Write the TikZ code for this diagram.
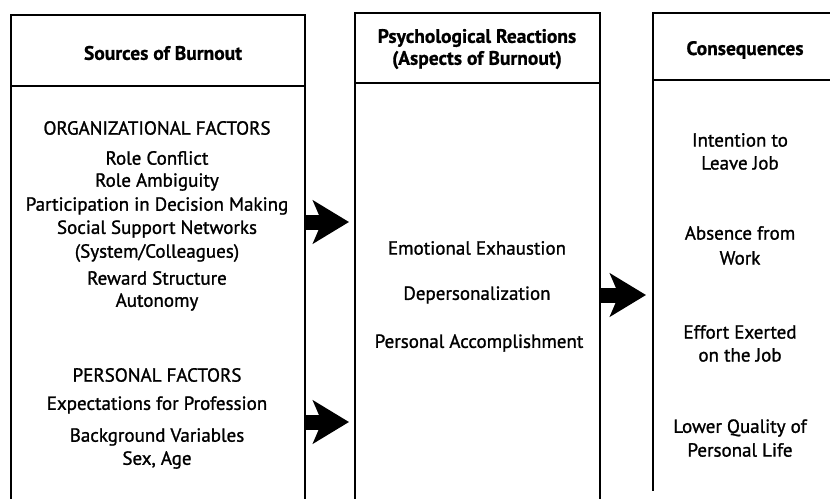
\documentclass[tikz,border=0pt]{standalone}
\usepackage{fontspec}
\setmainfont{PT Sans}
\newfontfamily\bodyfont{PT Sans}[FakeBold=1.2]
\newfontfamily\headfont{PT Sans Bold}[FakeBold=0.8]
\usetikzlibrary{arrows.meta}
\begin{document}
\begin{tikzpicture}[x=1pt,y=1pt,
  boxline/.style={line width=2.2pt,line cap=rect},
  txt/.style={inner sep=0pt,font=\bodyfont\fontsize{19}{22}\selectfont},
  head/.style={inner sep=0pt,font=\headfont\fontsize{19.5}{22}\selectfont},
  fatarrow/.style={line width=15pt,-{Stealth[length=36pt,width=43pt,inset=9pt]}}]
\useasboundingbox (0,0) rectangle (830,-498);
\begin{scope}
\clip (0,0) rectangle (830,-498);
% box 1
\coordinate (b1tl) at (11,-15);
\coordinate (b1tr) at (305,-15);
\coordinate (b1bl) at (11,-505);
\coordinate (b1br) at (305,-505);
\draw[boxline] (b1bl) -- (b1tl) -- (b1tr) -- (b1br);
\draw[boxline] (11,-86) -- (305,-86);
% box 2
\coordinate (b2tl) at (355,-13);
\coordinate (b2tr) at (600,-13);
\coordinate (b2bl) at (355,-505);
\coordinate (b2br) at (600,-505);
\draw[boxline] (b2bl) -- (b2tl) -- (b2tr) -- (b2br);
\draw[boxline] (355,-83) -- (600,-83);
% box 3
\coordinate (b3tl) at (653,-13);
\coordinate (b3tr) at (840,-13);
\coordinate (b3bl) at (653,-490);
\draw[boxline] (b3bl) -- (b3tl) -- (b3tr);
\draw[boxline] (653,-80) -- (840,-80);
\end{scope}
% arrows
\coordinate (a1s) at (304,-222);
\coordinate (a1e) at (349,-222);
\coordinate (a2s) at (304,-422);
\coordinate (a2e) at (349,-422);
\coordinate (a3s) at (599,-295);
\coordinate (a3e) at (646,-295);
\draw[fatarrow] (a1s) -- (a1e);
\draw[fatarrow] (a2s) -- (a2e);
\draw[fatarrow] (a3s) -- (a3e);
% box 1 texts
\node[head] (h1) at (163,-53) {Sources of Burnout};
\node[txt] (o0) at (157,-128) {ORGANIZATIONAL FACTORS};
\node[txt] (o1) at (157,-158) {Role Conflict};
\node[txt] (o2) at (157,-182) {Role Ambiguity};
\node[txt] (o3) at (157,-206) {Participation in Decision Making};
\node[txt] (o4) at (157,-229) {Social Support Networks};
\node[txt] (o5) at (157,-253) {(System/Colleagues)};
\node[txt] (o6) at (157,-278) {Reward Structure};
\node[txt] (o7) at (157,-302) {Autonomy};
\node[txt] (p0) at (157,-375) {PERSONAL FACTORS};
\node[txt] (p1) at (157,-405) {Expectations for Profession};
\node[txt] (p2) at (157,-437) {Background Variables};
\node[txt] (p3) at (157,-460) {Sex, Age};
% box 2 texts
\node[head] (h2a) at (477,-38) {Psychological Reactions};
\node[head] (h2b) at (477,-60) {(Aspects of Burnout)};
\node[txt] (r1) at (477,-248) {Emotional Exhaustion};
\node[txt] (r2) at (477,-295) {Depersonalization};
\node[txt] (r3) at (479,-343) {Personal Accomplishment};
% box 3 texts
\node[head] (h3) at (745,-50) {Consequences};
\node[txt] (c1a) at (740,-140) {Intention to};
\node[txt] (c1b) at (740,-163) {Leave Job};
\node[txt] (c2a) at (740,-233) {Absence from};
\node[txt] (c2b) at (740,-258) {Work};
\node[txt] (c3a) at (740,-332) {Effort Exerted};
\node[txt] (c3b) at (740,-355) {on the Job};
\node[txt] (c4a) at (740,-428) {Lower Quality of};
\node[txt] (c4b) at (740,-450) {Personal Life};
\end{tikzpicture}
\end{document}
